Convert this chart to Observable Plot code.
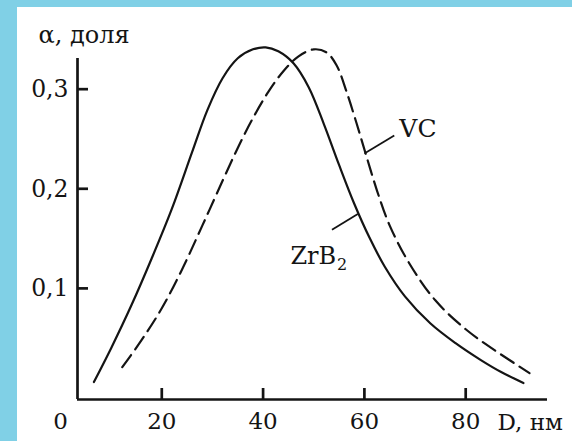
<!DOCTYPE html>
<html><head><meta charset="utf-8">
<script src="https://cdn.jsdelivr.net/npm/d3@7"></script>
<script src="https://cdn.jsdelivr.net/npm/@observablehq/plot@0.6"></script>
<style>
html,body{margin:0;padding:0;background:#80d0e6;width:572px;height:441px;overflow:hidden;}
#wrap{position:absolute;left:17px;top:7px;width:555px;height:434px;background:#fff;}
#wrap svg, #wrap svg text{font-family:"DejaVu Serif",serif !important;}
</style></head><body><div id="wrap"></div>
<script>
// ZrB2 (solid)
const zrb2D = [6.6, 10, 14, 18, 22, 26, 29, 32, 35, 38, 40.5, 43, 46, 49, 52, 55, 58, 61, 64, 68, 73, 78, 83, 87, 91.4];
const zrb2A = [0.006, 0.040, 0.083, 0.130, 0.180, 0.237, 0.279, 0.311, 0.331, 0.340, 0.342, 0.338, 0.326, 0.302, 0.265, 0.224, 0.185, 0.151, 0.122, 0.092, 0.065, 0.045, 0.028, 0.016, 0.005];
// VC (dashed)
const vcD = [12.2, 16, 20, 24, 28, 32, 35, 38, 41, 44, 47, 50, 52.5, 54.5, 56.5, 58.5, 60.5, 62.5, 65, 69, 74, 80, 86, 92.6];
const vcA = [0.021, 0.048, 0.080, 0.119, 0.163, 0.208, 0.241, 0.271, 0.297, 0.318, 0.333, 0.340, 0.337, 0.324, 0.297, 0.265, 0.231, 0.198, 0.163, 0.124, 0.088, 0.059, 0.037, 0.015];

const yTicks = [0.1, 0.2, 0.3];
const xTicks = [20, 40, 60, 80];
const xLabels = [0, 20, 40, 60, 80];
const xDomain = [3.36, 96.15];
const yDomain = [-0.01155, 0.3308];

const yTitle = "α, доля";
const xTitle = "D, нм";
const seriesLabels = [
  {text: "VC", D: 66.9, a: 0.252, size: 25},
  {text: "ZrB", D: 45.4, a: 0.124, size: 24},
  {text: "2", D: 54.6, a: 0.118, size: 16}
];
const leaders = [
  {D1: 60.0, a1: 0.2354, D2: 65.9, a2: 0.2535},
  {D1: 53.6, a1: 0.1588, D2: 58.7, a2: 0.1747}
];

const zrb2 = zrb2D.map((d, i) => ({D: d, a: zrb2A[i]}));
const vc = vcD.map((d, i) => ({D: d, a: vcA[i]}));
const fmt = d => d.toFixed(1).replace(".", ",");
const ink = "#141414";
const serif = "DejaVu Serif";

const chart = Plot.plot({
  width: 555,
  height: 434,
  marginLeft: 60,
  marginRight: 25,
  marginTop: 51,
  marginBottom: 42,
  style: {fontFamily: serif, fontSize: "23px", color: ink, background: "#fff"},
  x: {domain: xDomain, axis: null},
  y: {domain: yDomain, axis: null},
  marks: [
    Plot.ruleX([xDomain[0]], {stroke: ink, strokeWidth: 2.7}),
    Plot.ruleY([yDomain[0]], {stroke: ink, strokeWidth: 2.7}),
    Plot.ruleY(yTicks, {stroke: ink, strokeWidth: 2.7, insetRight: 459}),
    Plot.ruleX(xTicks, {stroke: ink, strokeWidth: 2.7, insetTop: 330}),
    Plot.text(yTicks, {y: d => d, frameAnchor: "left", textAnchor: "end", lineAnchor: "bottom", dx: -9, dy: 8, text: fmt, fill: ink, fontSize: 23.5, fontFamily: serif}),
    Plot.text(xLabels, {x: d => d, frameAnchor: "bottom", lineAnchor: "bottom", dy: 29.3, text: d => String(d), fill: ink, fontSize: 23, fontFamily: serif}),
    Plot.text([yTitle], {frameAnchor: "top-left", textAnchor: "start", lineAnchor: "bottom", dx: -39, dy: -16, text: d => d, fill: ink, fontSize: 24, fontFamily: serif, style: "letter-spacing:1.5px"}),
    Plot.text([xTitle], {frameAnchor: "bottom-right", textAnchor: "start", lineAnchor: "bottom", dx: -50, dy: 30, text: d => d, fill: ink, fontSize: 23, fontFamily: serif}),
    Plot.line(zrb2, {x: "D", y: "a", curve: "catmull-rom", stroke: ink, strokeWidth: 2.2}),
    Plot.line(vc, {x: "D", y: "a", curve: "catmull-rom", stroke: ink, strokeWidth: 2.2, strokeDasharray: "15,7"}),
    Plot.link(leaders, {x1: "D1", y1: "a1", x2: "D2", y2: "a2", stroke: ink, strokeWidth: 1.8}),
    Plot.text(seriesLabels, {x: "D", y: "a", text: "text", fontSize: d => d.size, fontFamily: serif, textAnchor: "start", lineAnchor: "bottom", fill: ink})
  ]
});
document.getElementById("wrap").appendChild(chart);
</script>
</body></html>
